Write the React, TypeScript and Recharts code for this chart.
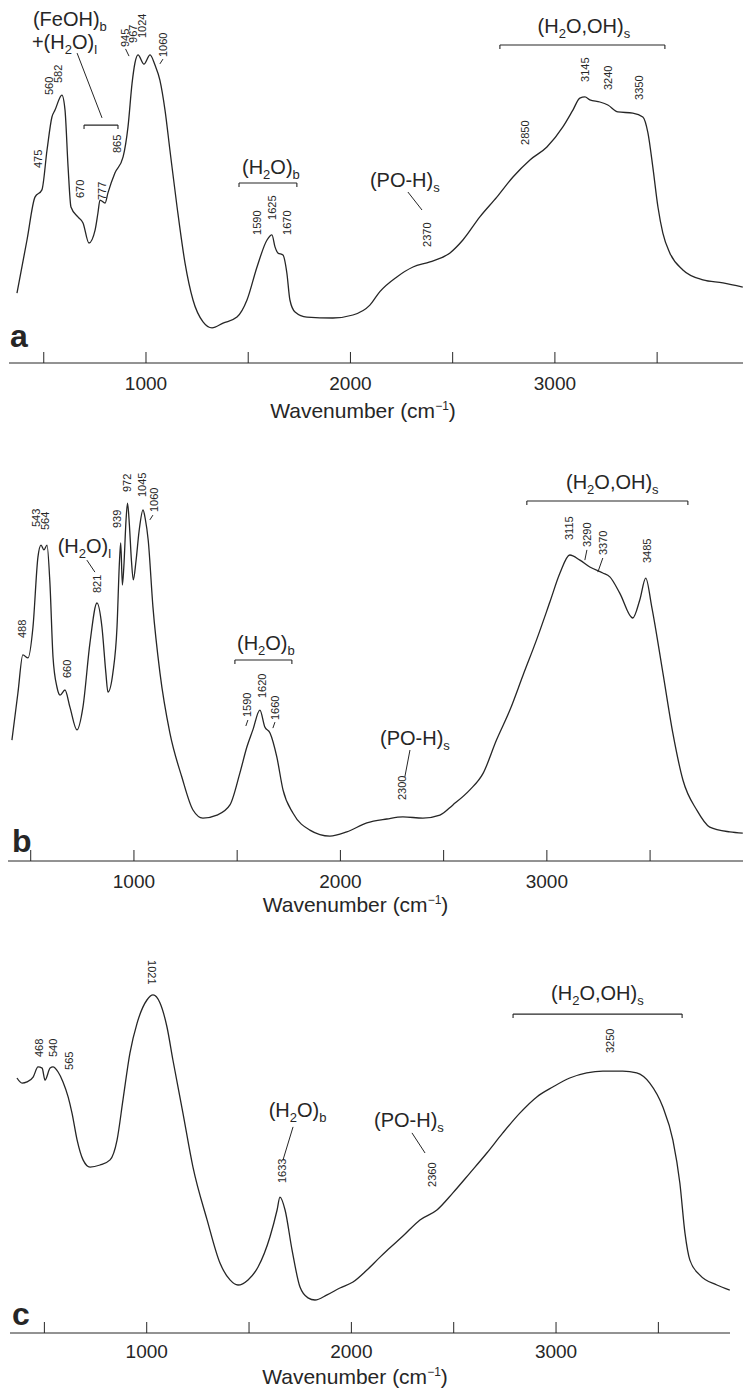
import { LineChart, Line, XAxis, YAxis, ReferenceLine, ReferenceDot, Label } from 'recharts';

const FONT = '"Liberation Sans", Arial, Helvetica, sans-serif';
const INK = '#262626';
const axisTicks = [500, 1000, 1500, 2000, 2500, 3000, 3500];

// ---- spectrum a ----
const waveA = [369, 418, 457, 491, 516, 540, 555, 589, 604, 619, 633, 667, 692, 721, 751, 765, 775, 800, 814, 848, 888, 912, 932, 946, 961, 990, 1020, 1044, 1068, 1093, 1117, 1152, 1191, 1230, 1279, 1323, 1377, 1445, 1494, 1543, 1592, 1616, 1631, 1645, 1670, 1689, 1704, 1729, 1787, 1914, 2012, 2095, 2144, 2227, 2306, 2389, 2487, 2550, 2633, 2716, 2795, 2878, 2961, 3039, 3088, 3122, 3147, 3171, 3220, 3259, 3308, 3381, 3430, 3455, 3479, 3504, 3528, 3562, 3626, 3724, 3822, 3919];
const absA = [23.3, 41, 55.3, 57.7, 71, 82, 84.3, 89.3, 84.3, 65.3, 52, 48.7, 46.7, 40, 44.3, 50, 54.3, 53.3, 56.7, 63.3, 68.7, 78.7, 93.3, 100, 102.7, 99.6, 102.7, 99.3, 94.3, 84.3, 71, 52, 33.3, 21, 13.7, 11.7, 13.3, 15.3, 21, 32, 41, 42.7, 38.7, 36.7, 36, 30, 21, 17, 15.3, 15, 16, 19.3, 23.8, 28.7, 32, 33.7, 36.7, 41, 48.7, 55.3, 62, 67.7, 72, 78.7, 84.3, 88.3, 88.7, 87.7, 87, 86, 83.7, 83.3, 82, 76.7, 65.3, 52, 43.3, 36.7, 31, 27.7, 26.7, 25.3];

// ---- spectrum b ----
const waveB = [409, 438, 462, 487, 511, 535, 550, 564, 579, 593, 608, 627, 642, 666, 690, 724, 753, 787, 821, 845, 864, 874, 898, 918, 930, 936, 944, 951, 962, 969, 978, 988, 997, 1010, 1025, 1044, 1055, 1069, 1092, 1126, 1174, 1232, 1286, 1334, 1402, 1465, 1513, 1547, 1576, 1610, 1634, 1659, 1692, 1722, 1770, 1852, 1949, 2031, 2128, 2225, 2303, 2400, 2482, 2545, 2627, 2691, 2756, 2821, 2885, 2950, 3015, 3063, 3111, 3160, 3208, 3271, 3305, 3353, 3416, 3450, 3479, 3508, 3562, 3610, 3659, 3726, 3789, 3886, 3949];
const absB = [40.3, 56, 68.7, 67.7, 78, 101.3, 105.3, 103.7, 105.3, 92.7, 68, 58, 55.3, 57, 51.3, 43.7, 51.3, 72.7, 86, 78, 62.7, 56.3, 62.7, 78, 100, 106, 92, 98, 114, 119.3, 112, 100, 93.7, 100, 110, 117, 114, 107, 84.7, 62.7, 42.7, 28, 17, 14.3, 15.3, 18.7, 29.3, 38, 43.7, 50.3, 44.7, 42.7, 34.7, 23.7, 16, 10.3, 8.3, 9.7, 12.7, 14, 14.7, 14.3, 15.3, 18.7, 23.7, 29.2, 40.3, 50.3, 62, 73.7, 86.4, 95.9, 102, 100.3, 98, 96, 94.7, 89.3, 81, 87, 94.3, 84.7, 62.7, 42.7, 27, 17, 11.3, 9.7, 9.3];

// ---- spectrum c ----
const waveC = [366, 391, 415, 445, 469, 489, 503, 528, 542, 567, 591, 616, 635, 660, 689, 723, 772, 821, 855, 884, 918, 953, 1001, 1031, 1065, 1099, 1128, 1177, 1226, 1295, 1358, 1407, 1446, 1495, 1544, 1602, 1637, 1651, 1676, 1710, 1749, 1788, 1822, 1881, 1944, 2008, 2076, 2140, 2174, 2252, 2335, 2418, 2496, 2579, 2662, 2740, 2823, 2906, 2984, 3067, 3150, 3229, 3326, 3394, 3458, 3522, 3571, 3605, 3630, 3654, 3703, 3786, 3849];
const absC = [85, 83.3, 83.7, 85.3, 88.7, 88.3, 84.3, 88.3, 88.7, 87, 83.7, 78.7, 73.3, 64.3, 57.7, 55.3, 56, 57.7, 64.3, 77.7, 93.3, 103.3, 111, 112.7, 110, 102, 91, 73.3, 55.3, 37.7, 23.3, 17.7, 16, 17.7, 22, 32, 41, 45.3, 41, 27.7, 15.3, 11.7, 11, 12.7, 15, 17, 21, 25.3, 27.5, 32.3, 37.7, 41, 46.7, 53.3, 60, 66.7, 73.3, 78.7, 82, 85, 86.7, 87.3, 87.3, 86.7, 83.3, 75.3, 64.3, 50, 33.3, 24.3, 19.3, 16, 14.3];

// peak labels (rotated numbers)
const peaksA = [
  { text: '475', w: 472, v: 65 }, { text: '560', w: 526, v: 89.3 }, { text: '582', w: 570, v: 93.3 },
  { text: '670', w: 677, v: 55 }, { text: '777', w: 785, v: 54.3 }, { text: '865', w: 858, v: 70 },
  { text: '945', w: 897, v: 105.3 }, { text: '967', w: 936, v: 106.7 }, { text: '1024', w: 980, v: 108.3 },
  { text: '1060', w: 1083, v: 102 }, { text: '1590', w: 1543, v: 42.7 }, { text: '1625', w: 1616, v: 47.7 },
  { text: '1670', w: 1689, v: 42.7 }, { text: '2370', w: 2374, v: 38.7 }, { text: '2850', w: 2853, v: 72.7 },
  { text: '3145', w: 3147, v: 93.7 }, { text: '3240', w: 3259, v: 91 }, { text: '3350', w: 3411, v: 87.7 },
];
const peaksB = [
  { text: '488', w: 458, v: 74.3 }, { text: '543', w: 528, v: 111.3 }, { text: '564', w: 570, v: 110.3 },
  { text: '660', w: 676, v: 61 }, { text: '821', w: 821, v: 89.3 }, { text: '939', w: 918, v: 111 },
  { text: '972', w: 966, v: 123 }, { text: '1045', w: 1039, v: 121.3 }, { text: '1060', w: 1097, v: 116.3 },
  { text: '1590', w: 1547, v: 48 }, { text: '1620', w: 1620, v: 54.3 }, { text: '1660', w: 1683, v: 47 },
  { text: '2300', w: 2298, v: 20.3 }, { text: '3115', w: 3107, v: 107 }, { text: '3290', w: 3194, v: 104.7 },
  { text: '3370', w: 3271, v: 102 }, { text: '3485', w: 3484, v: 99.3 },
];
const peaksC = [
  { text: '468', w: 474, v: 92 }, { text: '540', w: 542, v: 92 }, { text: '565', w: 620, v: 87.7 },
  { text: '1021', w: 1026, v: 124.3, flip: true }, { text: '1633', w: 1661, v: 50 },
  { text: '2360', w: 2394, v: 48.7 }, { text: '3250', w: 3263, v: 93.3 },
];

// band assignments
const groupsA = [
  { label: '(FeOH)_b', w: 447, v: 112.3, anchor: 'start' },
  { label: '+(H_2O)_l', w: 442, v: 104.7, anchor: 'start' },
  { label: '(H_2O)_b', w: 1611, v: 63 },
  { label: '(PO-H)_s', w: 2266, v: 58.7 },
  { label: '(H_2O,OH)_s', w: 3142, v: 110 },
];
const groupsB = [
  { label: '(H_2O)_l', w: 760, v: 102.7 },
  { label: '(H_2O)_b', w: 1639, v: 70.3 },
  { label: '(PO-H)_s', w: 2361, v: 38.7 },
  { label: '(H_2O,OH)_s', w: 3317, v: 124 },
];
const groupsC = [
  { label: '(H_2O)_b', w: 1737, v: 72 },
  { label: '(PO-H)_s', w: 2281, v: 68.7 },
  { label: '(H_2O,OH)_s', w: 3202, v: 111 },
];

const bracketsA = [{ w1: 697, w2: 863, v: 79.3 }, { w1: 1455, w2: 1738, v: 60 }, { w1: 2731, w2: 3538, v: 106 }];
const bracketsB = [{ w1: 1489, w2: 1765, v: 67 }, { w1: 2903, w2: 3683, v: 120 }];
const bracketsC = [{ w1: 2790, w2: 3616, v: 106.3 }];

const leadersA = [
  { w1: 663, v1: 103.3, w2: 785, v2: 81.7 }, { w1: 2281, v1: 57, w2: 2350, v2: 51 },
  { w1: 900, v1: 104.7, w2: 917, v2: 102.3 }, { w1: 1083, v1: 101.3, w2: 1068, v2: 99.7 },
];
const leadersB = [
  { w1: 772, v1: 100.3, w2: 811, v2: 96.3 }, { w1: 2337, v1: 37, w2: 2312, v2: 28 },
  { w1: 1092, v1: 115.3, w2: 1077, v2: 113.7 }, { w1: 1552, v1: 47, w2: 1542, v2: 45 },
  { w1: 1683, v1: 46.3, w2: 1673, v2: 44.3 }, { w1: 3194, v1: 103.7, w2: 3184, v2: 100.3 },
  { w1: 3271, v1: 101, w2: 3247, v2: 96.3 },
];
const leadersC = [{ w1: 1715, v1: 68.7, w2: 1666, v2: 57.7 }, { w1: 2296, v1: 66.7, w2: 2360, v2: 60 }];

function RichText({ x, y, label, anchor = 'middle', size = 20 }: any) {
  const segs: { t: string; sub: boolean }[] = [];
  let buf = '';
  for (let i = 0; i < label.length; i++) {
    if (label[i] === '_') {
      if (buf) segs.push({ t: buf, sub: false });
      buf = '';
      segs.push({ t: label[i + 1], sub: true });
      i++;
    } else buf += label[i];
  }
  if (buf) segs.push({ t: buf, sub: false });
  let prevSub = false;
  return (
    <text x={x} y={y} textAnchor={anchor} fontFamily={FONT} fontSize={size} fill={INK}>
      {segs.map((s, i) => {
        const dy = s.sub === prevSub ? 0 : s.sub ? 5 : -5;
        prevSub = s.sub;
        return (
          <tspan key={i} dy={dy} fontSize={s.sub ? 13 : size}>
            {s.t}
          </tspan>
        );
      })}
    </text>
  );
}

function Panel({ wave, abs, xDomain, yMax, left, right, height, axisH, peaks, groups, brackets, leaders, letter, titleDx, titleDy, tickMargin }: any) {
  const data = wave.map((w: number, i: number) => ({ w, a: abs[i] }));
  return (
    <LineChart width={743} height={height} data={data} margin={{ top: 0, right, bottom: 0, left }}>
      <XAxis
        type="number"
        dataKey="w"
        domain={xDomain}
        allowDataOverflow
        ticks={axisTicks}
        interval={0}
        tickFormatter={(t: number) => (t % 1000 === 0 ? String(t) : '')}
        tickSize={-11}
        tickMargin={tickMargin}
        height={axisH}
        stroke={INK}
        tick={{ fill: INK, fontSize: 19, fontFamily: FONT }}
      >
        <Label
          content={({ viewBox }: any) => (
            <text x={viewBox.x + viewBox.width / 2 + titleDx} y={viewBox.y + titleDy} textAnchor="middle" fontFamily={FONT} fontSize={21} fill={INK}>
              Wavenumber (cm
              <tspan dy={-8} fontSize={12}>−1</tspan>
              <tspan dy={8}>)</tspan>
            </text>
          )}
        />
      </XAxis>
      <YAxis hide type="number" domain={[0, yMax]} allowDataOverflow />
      <Line type="monotone" dataKey="a" dot={false} stroke={INK} strokeWidth={1.3} isAnimationActive={false} />
      {brackets.map((b: any, i: number) => [
        <ReferenceLine key={'bh' + i} segment={[{ x: b.w1, y: b.v }, { x: b.w2, y: b.v }]} stroke={INK} strokeWidth={1.1} ifOverflow="visible" />,
        <ReferenceLine key={'bl' + i} segment={[{ x: b.w1, y: b.v }, { x: b.w1, y: b.v - 1.3 }]} stroke={INK} strokeWidth={1.1} ifOverflow="visible" />,
        <ReferenceLine key={'br' + i} segment={[{ x: b.w2, y: b.v }, { x: b.w2, y: b.v - 1.3 }]} stroke={INK} strokeWidth={1.1} ifOverflow="visible" />,
      ])}
      {leaders.map((l: any, i: number) => (
        <ReferenceLine key={'l' + i} segment={[{ x: l.w1, y: l.v1 }, { x: l.w2, y: l.v2 }]} stroke={INK} strokeWidth={1} ifOverflow="visible" />
      ))}
      {peaks.map((p: any, i: number) => (
        <ReferenceDot
          key={'p' + i}
          x={p.w}
          y={p.v}
          r={0}
          ifOverflow="visible"
          shape={(s: any) => (
            <text
              transform={`translate(${s.cx},${s.cy}) rotate(${p.flip ? 90 : -90})`}
              x={0}
              y={0}
              textAnchor="start"
              dominantBaseline="central"
              fontFamily={FONT}
              fontSize={11}
              fill={INK}
            >
              {p.text}
            </text>
          )}
        />
      ))}
      {groups.map((g: any, i: number) => (
        <ReferenceDot
          key={'g' + i}
          x={g.w}
          y={g.v}
          r={0}
          ifOverflow="visible"
          shape={(s: any) => <RichText x={s.cx} y={s.cy} label={g.label} anchor={g.anchor || 'middle'} />}
        />
      ))}
      <ReferenceDot
        x={letter.w}
        y={letter.v}
        r={0}
        ifOverflow="visible"
        shape={(s: any) => (
          <text x={s.cx} y={s.cy} fontFamily={FONT} fontWeight="bold" fontSize={32} fill={INK}>
            {letter.text}
          </text>
        )}
      />
    </LineChart>
  );
}

export default function App() {
  return (
    <div style={{ position: 'absolute', left: 0, top: 0, width: 743, height: 1389, background: '#fff' }}>
      <div style={{ position: 'absolute', left: 0, top: 0 }}>
        <Panel wave={waveA} abs={absA} xDomain={[330, 3920]} yMax={121} left={9} right={0} height={428} axisH={65}
          peaks={peaksA} groups={groupsA} brackets={bracketsA} leaders={leadersA}
          letter={{ text: 'a', w: 335, v: 5.3 }} titleDx={-13} titleDy={55} tickMargin={25} />
      </div>
      <div style={{ position: 'absolute', left: 0, top: 441 }}>
        <Panel wave={waveB} abs={absB} xDomain={[390, 3950]} yMax={140} left={8} right={0} height={485} axisH={65}
          peaks={peaksB} groups={groupsB} brackets={bracketsB} leaders={leadersB}
          letter={{ text: 'b', w: 409, v: 3 }} titleDx={-20} titleDy={51} tickMargin={25} />
      </div>
      <div style={{ position: 'absolute', left: 0, top: 943 }}>
        <Panel wave={waveC} abs={absC} xDomain={[332, 3850]} yMax={130} left={10} right={13} height={446} axisH={56}
          peaks={peaksC} groups={groupsC} brackets={bracketsC} leaders={leadersC}
          letter={{ text: 'c', w: 342, v: 2.7 }} titleDx={-15} titleDy={51} tickMargin={23} />
      </div>
    </div>
  );
}
